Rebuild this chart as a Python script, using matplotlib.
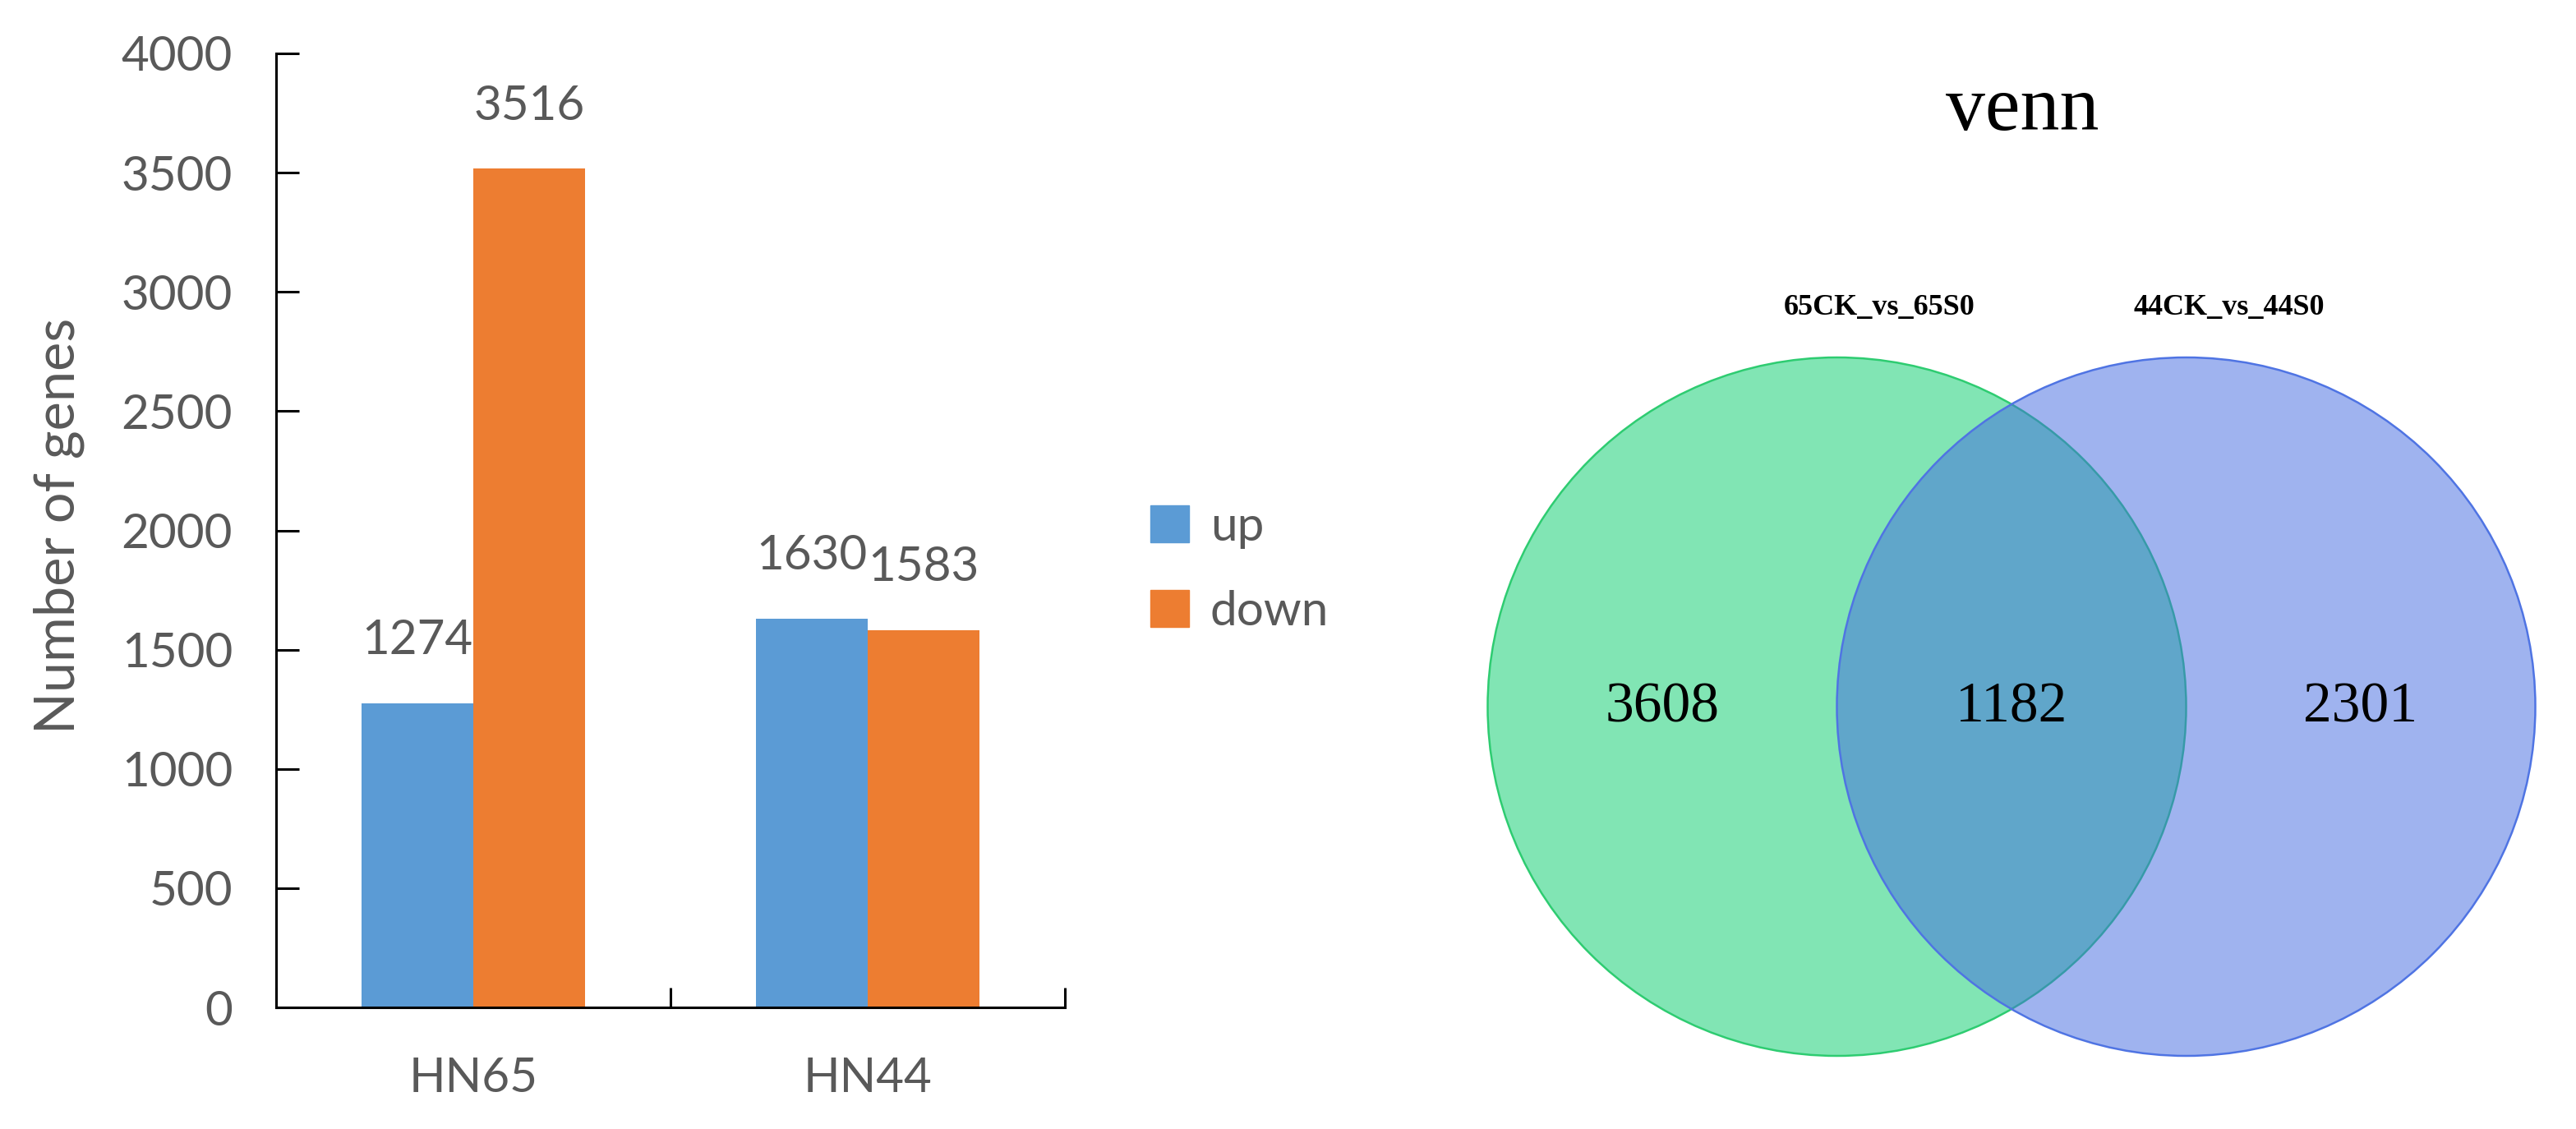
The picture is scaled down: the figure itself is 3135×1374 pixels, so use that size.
"""
Bar chart of up/down regulated genes plus a two-set venn diagram.
"""

import matplotlib
matplotlib.use('Agg')
import matplotlib.pyplot as plt
from matplotlib.patches import Circle, Patch
import numpy as np

# bar chart data
varieties = ['HN65', 'HN44']
up_genes = [1274, 1630]
down_genes = [3516, 1583]
y_ticks = [0, 500, 1000, 1500, 2000, 2500, 3000, 3500, 4000]

# venn data
venn_title = 'venn'
set_names = ['65CK_vs_65S0', '44CK_vs_44S0']
only_first = 3608
shared = 1182
only_second = 2301

BLUE = '#5B9BD5'
ORANGE = '#ED7D31'
GREY = '#595959'
SANS = ['Lato', 'DejaVu Sans']
SERIF = ['Liberation Serif', 'DejaVu Serif']

W, H = 3135, 1374
fig = plt.figure(figsize=(W / 100, H / 100), dpi=100)

# ---- bar chart ----
ax = fig.add_axes([336 / W, 1 - 1226 / H, 960 / W, 1161 / H])
x = np.arange(len(varieties)) + 0.5
bw = 0.284
b_up = ax.bar(x - bw / 2, up_genes, bw, color=BLUE, label='up')
b_down = ax.bar(x + bw / 2, down_genes, bw, color=ORANGE, label='down')
for bars in (b_up, b_down):
    for rect in bars:
        ax.annotate(f'{int(rect.get_height())}',
                    (rect.get_x() + rect.get_width() / 2, rect.get_height()),
                    xytext=(0, 43), textcoords='offset points',
                    ha='center', va='baseline', fontsize=42, color=GREY,
                    family=SANS)

ax.set_xlim(0, len(varieties))
ax.set_ylim(0, 4000)
ax.set_yticks(y_ticks)
ax.set_yticklabels([str(t) for t in y_ticks], family=SANS, fontsize=42, color=GREY)
ax.set_xticks(np.arange(len(varieties) + 1))
ax.set_xticklabels([])
ax.set_xticks(x, minor=True)
ax.set_xticklabels(varieties, minor=True, family=SANS, fontsize=42, color=GREY)
ax.tick_params(axis='y', direction='in', length=20, width=2.2, pad=38)
ax.tick_params(axis='x', which='major', direction='in', length=17, width=2.2)
ax.tick_params(axis='x', which='minor', length=0, pad=43)
for side in ('top', 'right'):
    ax.spines[side].set_visible(False)
for side in ('left', 'bottom'):
    ax.spines[side].set_linewidth(2.2)
    ax.spines[side].set_color('black')

fig.text(72 / W, 1 - 640 / H, 'Number of genes', rotation=90, ha='center',
         va='center', fontsize=48, color=GREY, family=SANS)

handles = [Patch(color=BLUE, label='up'), Patch(color=ORANGE, label='down')]
leg = fig.legend(handles=handles, loc='upper left',
                 bbox_to_anchor=(1400 / W, 1 - 615 / H), frameon=False,
                 prop={'family': SANS, 'size': 42}, handlelength=0.8,
                 handleheight=0.8, handletextpad=0.45, labelspacing=0.85,
                 borderpad=0, borderaxespad=0)
for t in leg.get_texts():
    t.set_color(GREY)

# ---- venn diagram (units: circle radius = 1) ----
px = 425.0
cx, cy = 2448, 860
vax = fig.add_axes([1700 / W, 0, 1435 / W, 1])
vax.set_xlim((1700 - cx) / px, (W - cx) / px)
vax.set_ylim(-(H - cy) / px, cy / px)
vax.axis('off')

green = (0.02, 0.80, 0.42)
royal = (0.255, 0.41, 0.88)
vax.add_patch(Circle((-0.5, 0), 1.0, facecolor=green, alpha=0.5, edgecolor='none'))
vax.add_patch(Circle((-0.5, 0), 1.0, facecolor='none', edgecolor='#2ECC71', lw=1.8))
vax.add_patch(Circle((0.5, 0), 1.0, facecolor=royal, alpha=0.5, edgecolor='none'))
vax.add_patch(Circle((0.5, 0), 1.0, facecolor='none', edgecolor='#4F74E3', lw=1.8))

counts = [only_first, shared, only_second]
for xpos, n in zip([-1.0, 0.0, 1.0], counts):
    vax.text(xpos, -0.005, str(n), ha='center', va='center', fontsize=50,
             family=SERIF, color='black')

vax.text(0.03, (cy - 158) / px, venn_title, ha='center', va='baseline',
         fontsize=69, family=SERIF, color='black')
for xpos, name in zip([-0.379, 0.624], set_names):
    vax.text(xpos, (cy - 375) / px, name, ha='center', va='center',
             fontsize=26, family=SERIF, fontweight='bold', color='black')

fig.savefig('out.png', dpi=100)
